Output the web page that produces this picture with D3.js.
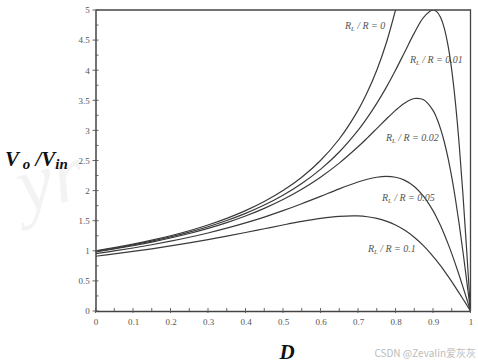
<!DOCTYPE html>
<html><head><meta charset="utf-8">
<script src="https://cdn.jsdelivr.net/npm/d3@7"></script>
<style>body{margin:0;background:#fff}svg{display:block}</style>
</head><body>
<svg id="c" width="478" height="363"></svg>
<script>
const dutyCycle = [0,0.05,0.1,0.15,0.2,0.25,0.3,0.35,0.4,0.45,0.5,0.55,0.6,0.65,0.7,0.725,0.75,0.775,0.8,0.825,0.85,0.875,0.9,0.91,0.92,0.93,0.94,0.95,0.96,0.97,0.98,0.99,1.0];
const gainR0 = [1,1.0526,1.1111,1.1765,1.25,1.3333,1.4286,1.5385,1.6667,1.8182,2,2.2222,2.5,2.8571,3.3333,3.6364,4,4.4444,5];
const gainR001 = [0.9901,1.0411,1.0976,1.1604,1.2308,1.31,1.4,1.5029,1.6216,1.76,1.9231,2.1176,2.3529,2.6415,3.0,3.2117,3.4483,3.7113,4.0,4.3077,4.6154,4.878,5.0,4.9724,4.878,4.698,4.4118,4.0,3.4483,2.7523,1.9231,0.9901,0];
const gainR002 = [0.9804,1.0298,1.0843,1.1448,1.2121,1.2876,1.3725,1.4689,1.5789,1.7054,1.8519,2.0225,2.2222,2.4561,2.7273,2.8758,3.0303,3.1858,3.3333,3.4568,3.5294,3.5088,3.3333,3.2028,3.0303,2.8112,2.5424,2.2222,1.8519,1.4354,0.9804,0.4975,0];
const gainR005 = [0.9524,0.9974,1.0465,1.1003,1.1594,1.2245,1.2963,1.3757,1.4634,1.5603,1.6667,1.7822,1.9048,2.029,2.1429,2.1891,2.2222,2.236,2.2222,2.1705,2.069,1.9048,1.6667,1.5491,1.4184,1.275,1.1194,0.9524,0.7752,0.5894,0.3968,0.1996,0];
const gainR01 = [0.9091,0.9476,0.989,1.0334,1.0811,1.1321,1.1864,1.244,1.3043,1.3665,1.4286,1.4876,1.5385,1.573,1.5789,1.5658,1.5385,1.4938,1.4286,1.3397,1.2245,1.0811,0.9091,0.8326,0.7519,0.6673,0.5792,0.4878,0.3937,0.2973,0.1992,0.0999,0];
const seriesLabels = ["0","0.01","0.02","0.05","0.1"];
const xTicks = [0,0.1,0.2,0.3,0.4,0.5,0.6,0.7,0.8,0.9,1];
const yTicks = [0,0.5,1,1.5,2,2.5,3,3.5,4,4.5,5];

const svg = d3.select("#c");
const L = 95.5, R = 470.5, T = 10, B = 311;
const x = d3.scaleLinear().domain([0,1]).range([L,R]);
const y = d3.scaleLinear().domain([0,5]).range([B,T]);

// watermark
svg.append("text").attr("x",14).attr("y",205).attr("transform","rotate(-15,50,170)")
  .attr("font-family","Liberation Serif").attr("font-style","italic").attr("font-size",80)
  .attr("fill","#f3f3f3").text("yr");

svg.append("defs").append("clipPath").attr("id","clip").append("rect")
  .attr("x",L).attr("y",T).attr("width",R-L).attr("height",B-T);

const series = [gainR0,gainR001,gainR002,gainR005,gainR01];
const line = d3.line().x(d=>x(d[0])).y(d=>y(d[1])).curve(d3.curveCatmullRom);
const g = svg.append("g").attr("clip-path","url(#clip)");
series.forEach(s=>{
  const pts = s.map((v,i)=>[dutyCycle[i],v]);
  g.append("path").attr("d",line(pts)).attr("fill","none").attr("stroke","#3a3a3a").attr("stroke-width",1.2);
});

// frame
svg.append("path").attr("d",`M${L},${T}H${R}V${B}`).attr("fill","none").attr("stroke","#444").attr("stroke-width",1.3);

// axes
const xAxis = d3.axisBottom(x).tickValues(xTicks).tickFormat(d3.format("")).tickSize(0);
const gx = svg.append("g").attr("transform",`translate(0,${B})`).call(xAxis);
gx.select(".domain").attr("stroke","#444").attr("stroke-width",1.5);
gx.selectAll("text").attr("font-family","Liberation Serif").attr("font-size",9).attr("fill","#555").attr("dy","1.25em");
const yAxis = d3.axisLeft(y).tickValues(yTicks).tickFormat(d3.format("")).tickSize(0);
const gy = svg.append("g").attr("transform",`translate(${L},0)`).call(yAxis);
gy.select(".domain").attr("stroke","#444").attr("stroke-width",1.5);
gy.selectAll("text").attr("font-family","Liberation Serif").attr("font-size",9).attr("fill","#555").attr("dx","-0.3em");

// ticks
const tk = svg.append("g").attr("stroke","#555").attr("stroke-width",0.9);
d3.range(0,1.0001,0.05).forEach((v,i)=>{
  const major = i%2===0;
  tk.append("line").attr("x1",x(v)).attr("x2",x(v)).attr("y1",B+(major?2:0)).attr("y2",B-3);
});
d3.range(0,5.0001,0.25).forEach((v,i)=>{
  const major = i%2===0;
  tk.append("line").attr("y1",y(v)).attr("y2",y(v)).attr("x1",L-(major?3:0)).attr("x2",L+3);
});

// curve labels
const labelPos = [[345,29],[410,63],[386,141],[382,201],[368,252]];
seriesLabels.forEach((s,i)=>{
  const t = svg.append("text").attr("x",labelPos[i][0]).attr("y",labelPos[i][1])
    .attr("font-family","Liberation Serif").attr("font-style","italic").attr("font-size",10).attr("fill","#555");
  t.append("tspan").text("R");
  t.append("tspan").attr("font-size",6.5).attr("dy",2).text("L");
  t.append("tspan").attr("dy",-2).text(" / R = " + s);
});

// axis titles
const yt = svg.append("text").attr("x",5).attr("y",166).attr("font-family","Liberation Serif")
  .attr("font-style","italic").attr("font-weight","bold").attr("font-size",21).attr("fill","#111");
yt.append("tspan").text("V");
yt.append("tspan").attr("font-size",15).attr("dy",3).text(" o");
yt.append("tspan").attr("dy",-3).text(" /V");
yt.append("tspan").attr("font-size",15).attr("dy",3).text("in");

svg.append("text").attr("x",287).attr("y",359).attr("text-anchor","middle").attr("font-family","Liberation Serif")
  .attr("font-style","italic").attr("font-weight","bold").attr("font-size",21).attr("fill","#111").text("D");

svg.append("text").attr("x",476).attr("y",357).attr("text-anchor","end").attr("font-family","Noto Sans CJK SC, sans-serif")
  .attr("font-size",10).attr("fill","#bbb").text("CSDN @Zevalin爱灰灰");
</script>
</body></html>
